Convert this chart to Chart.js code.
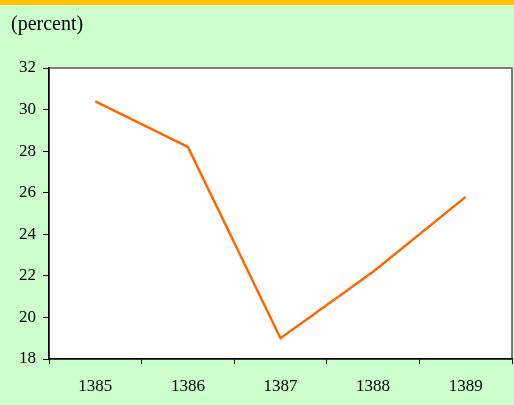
<!DOCTYPE html>
<html>
<head>
<meta charset="utf-8">
<script src="https://cdn.jsdelivr.net/npm/chart.js@4"></script>
<style>
    html, body { margin: 0; padding: 0; }
    body { width: 514px; height: 405px; background: #ccffcc; position: relative; overflow: hidden; }
    #topBar { position: absolute; left: 0; top: 0; width: 514px; height: 5px; background: #ffc000; }
    #unit { position: absolute; left: 11px; top: 12px; font: 20px "Liberation Serif", "Times New Roman", serif; color: #000; }
    #wrap { position: absolute; left: 0; top: 0; width: 514px; height: 405px; }
</style>
</head>
<body>
<div id="wrap"><canvas id="rateChart" width="514" height="405"></canvas></div>
<div id="topBar"></div>
<div id="unit">(percent)</div>
<script>

// ================= DATA =================

const years = ["1385", "1386", "1387", "1388", "1389"];

const rates = [30.4, 28.2, 19.0, 22.2, 25.8];

const yTicks = [18, 20, 22, 24, 26, 28, 30, 32];


// ================= PLOT BACKGROUND =================

const plotFrame = {

    id: "plotFrame",

    beforeDraw(chart) {

        const { ctx, chartArea } = chart;

        ctx.save();
        ctx.fillStyle = "#ffffff";
        ctx.fillRect(chartArea.left, chartArea.top, chartArea.right - chartArea.left, chartArea.bottom - chartArea.top);
        ctx.strokeStyle = "#555555";
        ctx.lineWidth = 1.5;
        ctx.strokeRect(chartArea.left, chartArea.top, chartArea.right - chartArea.left, chartArea.bottom - chartArea.top);
        ctx.restore();

    }

};


// ================= LINE CHART =================

const rateChart = document.getElementById("rateChart");

new Chart(rateChart, {

    type: "line",

    data: {

        labels: years,

        datasets: [{

            data: rates,

            borderColor: "#ff6600",

            borderWidth: 2.5,

            pointRadius: 0,

            tension: 0

        }]

    },

    options: {

        responsive: false,

        animation: false,

        layout: {
            padding: { left: 0, top: 68, right: 2, bottom: 0 }
        },

        plugins: {
            legend: { display: false },
            tooltip: { enabled: false }
        },

        scales: {

            x: {
                offset: true,
                grid: {
                    offset: true,
                    drawOnChartArea: false,
                    tickLength: 5,
                    color: "#000000"
                },
                border: { color: "#000000", width: 1.5 },
                ticks: {
                    color: "#000000",
                    padding: 12,
                    font: { family: "'Liberation Serif', 'Times New Roman', serif", size: 17 }
                },
                afterFit(scale) {
                    scale.height = 46;
                }
            },

            y: {
                min: 18,
                max: 32,
                afterBuildTicks(scale) {
                    scale.ticks = yTicks.map(v => ({ value: v }));
                },
                grid: {
                    drawOnChartArea: false,
                    tickLength: 6,
                    color: "#000000"
                },
                border: { color: "#000000", width: 1.5 },
                ticks: {
                    color: "#000000",
                    padding: 7,
                    font: { family: "'Liberation Serif', 'Times New Roman', serif", size: 17 }
                },
                afterFit(scale) {
                    scale.width = 49;
                }
            }

        }

    },

    plugins: [plotFrame]

});

</script>
</body>
</html>
